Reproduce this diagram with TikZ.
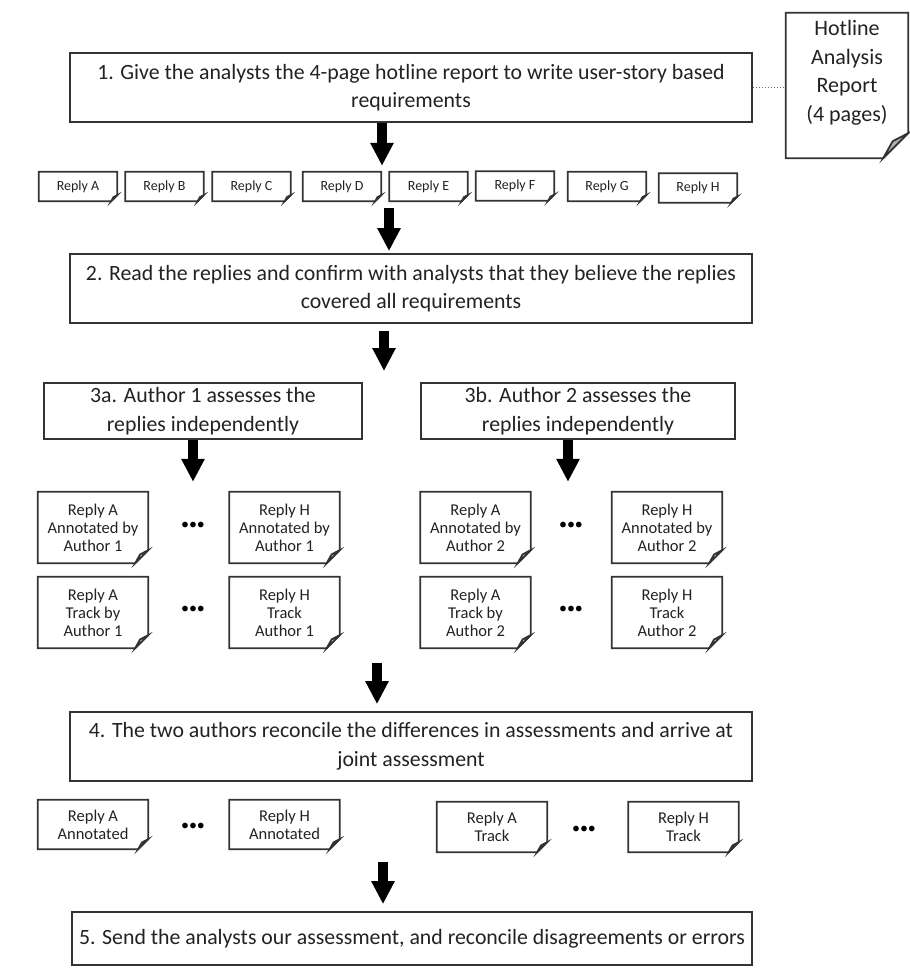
\documentclass[tikz,border=0pt]{standalone}
\usepackage{fontspec}
\setmainfont{Carlito}
\usetikzlibrary{arrows.meta}
\definecolor{ln}{HTML}{333333}
\definecolor{tx}{HTML}{222222}
\newcommand\docoutline[3]{%
  \draw[docline] (#1.north west) -- (#1.north east) -- ([yshift={#2pt}]#1.south east) -- ([xshift={-#2pt}]#1.south east) -- (#1.south west) -- cycle;
  \draw[docline, fill=#3] ([yshift={#2pt}]#1.south east) -- ([xshift={-0.62*#2pt}, yshift={0.68*#2pt}]#1.south east) -- ([xshift={-#2pt}]#1.south east) -- cycle;
}
\begin{document}
\begin{tikzpicture}[x=1pt,y=-1pt,
  box/.style={draw=ln, line width=1.8pt, align=center, inner sep=0pt, text=tx,
    font=\fontsize{21.8}{28.5}\selectfont},
  docline/.style={draw=ln, line width=1.8pt, line join=miter},
  doc/.style={inner sep=0pt, align=center, text=tx, minimum width=110pt, minimum height=71pt,
    font=\fontsize{16.5}{18}\selectfont},
  botdoc/.style={doc, minimum height=49pt},
  reply/.style={inner sep=0pt, text=tx, minimum width=78pt, minimum height=29pt,
    font=\fontsize{14}{15}\selectfont},
  dots/.style={inner sep=0pt, text=black, font=\fontsize{16}{16}\selectfont},
  bigarrow/.style={line width=10pt, black, -{Triangle[width=22pt,length=23pt]}},
  ]
\useasboundingbox (0,0) rectangle (910,978);

% Step 1 and hotline report
\node[box, minimum width=682pt, minimum height=69pt] (b1) at (411,87.5)
  {1. Give the analysts the 4-page hotline report to write user-story based\\requirements};
\node[inner sep=0pt, minimum width=122pt, minimum height=145pt] (hot) at (847,85.5) {};
\docoutline{hot}{25}{gray!60}
\node[inner sep=0pt, align=center, text=tx, font=\fontsize{22}{28.5}\selectfont] (hott)
  at ([yshift=13pt]hot.center) {Hotline\\Analysis\\Report\\(4 pages)};
\draw[dotted, line width=1pt, ln!70] (b1.east) -- (b1.east -| hot.west);

% Replies
\node[reply] (rA) at (78,186.5) {Reply A};
\node[reply] (rB) at (164.5,186.5) {Reply B};
\node[reply] (rC) at (251.5,186.5) {Reply C};
\node[reply] (rD) at (342,186.5) {Reply D};
\node[reply] (rE) at (428.5,186.5) {Reply E};
\node[reply] (rF) at (515,186) {Reply F};
\node[reply] (rG) at (607,186.5) {Reply G};
\node[reply] (rH) at (698,188) {Reply H};
\foreach \n in {rA,rB,rC,rD,rE,rF,rG,rH} {\docoutline{\n}{6}{ln}}

\coordinate (ax1) at (382,0);
\draw[bigarrow, shorten >=6pt] (b1.south -| ax1) -- (rD.north -| ax1);

% Step 2
\node[box, minimum width=682pt, minimum height=69pt] (b2) at (411,288.5)
  {2. Read the replies and confirm with analysts that they believe the replies\\covered all requirements};
\coordinate (ax2) at (389,0);
\draw[bigarrow, shorten <=7pt, shorten >=2pt] (rE.south -| ax2) -- (b2.north -| ax2);

% Step 3a / 3b
\node[box, minimum width=318pt, minimum height=56pt] (b3a) at (203,411)
  {3a. Author 1 assesses the\\replies independently};
\node[box, minimum width=314pt, minimum height=56pt] (b3b) at (578,411)
  {3b. Author 2 assesses the\\replies independently};
\coordinate (t3) at (384,371);
\draw[bigarrow, shorten <=7pt] (b2.south -| t3) -- (t3);

% Annotated / track docs
\node[doc] (lA1) at (93,527.5) {Reply A\\Annotated by\\Author 1};
\node[doc] (lH1) at (284.5,527.5) {Reply H\\Annotated by\\Author 1};
\node[doc] (lA2) at (93,612.5) {Reply A\\Track by\\Author 1};
\node[doc] (lH2) at (284.5,612.5) {Reply H\\Track\\Author 1};
\node[doc] (rA1) at (475.5,527.5) {Reply A\\Annotated by\\Author 2};
\node[doc] (rH1) at (667,527.5) {Reply H\\Annotated by\\Author 2};
\node[doc] (rA2) at (475.5,612.5) {Reply A\\Track by\\Author 2};
\node[doc] (rH2) at (667,612.5) {Reply H\\Track\\Author 2};
\foreach \n in {lA1,lH1,lA2,lH2,rA1,rH1,rA2,rH2} {\docoutline{\n}{13}{white}}
\node[dots] (d1) at (193,526) {•••};
\node[dots] (d2) at (193,610) {•••};
\node[dots] (d3) at (571,526) {•••};
\node[dots] (d4) at (571,610) {•••};

\coordinate (ax3a) at (193,0);
\coordinate (ax3b) at (568,0);
\draw[bigarrow, shorten >=10pt] (b3a.south -| ax3a) -- (lA1.north -| ax3a);
\draw[bigarrow, shorten >=10pt] (b3b.south -| ax3b) -- (rA1.north -| ax3b);

% Step 4
\node[box, minimum width=682pt, minimum height=69pt] (b4) at (411,746.5)
  {4. The two authors reconcile the differences in assessments and arrive at\\joint assessment};
\coordinate (s4) at (377,663);
\draw[bigarrow, shorten >=7pt] (s4) -- (b4.north -| s4);

% Joint docs
\node[botdoc] (jA1) at (93,824.5) {Reply A\\Annotated};
\node[botdoc] (jH1) at (284.5,824.5) {Reply H\\Annotated};
\node[botdoc, minimum height=50pt] (jA2) at (492,827) {Reply A\\Track};
\node[botdoc, minimum height=50pt] (jH2) at (683.5,827) {Reply H\\Track};
\foreach \n in {jA1,jH1,jA2,jH2} {\docoutline{\n}{10}{white}}
\node[dots] (d5) at (193,827) {•••};
\node[dots] (d6) at (584,830) {•••};

% Step 5
\node[box, minimum width=680pt, minimum height=53pt] (b5) at (412,938.5)
  {5. Send the analysts our assessment, and reconcile disagreements or errors};
\coordinate (s5) at (383,862);
\draw[bigarrow, shorten >=7pt] (s5) -- (b5.north -| s5);
\end{tikzpicture}
\end{document}
